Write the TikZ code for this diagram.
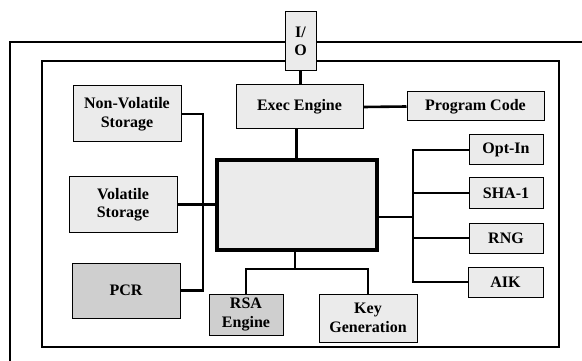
\documentclass[tikz,border=0pt]{standalone}
\usepackage{fontspec}
\setmainfont{Liberation Serif}
\begin{document}
\begin{tikzpicture}[x=1pt,y=-1pt,
  blk/.style={draw=black,line width=1pt,fill=gray!16,align=center,inner sep=0pt,
    font=\fontsize{16}{18.5}\selectfont\bfseries},
  dark/.style={fill=gray!38},
  wire/.style={line width=2.6pt},
  frame/.style={line width=1.3pt}]
\useasboundingbox (0,0) rectangle (582,361);
% frames
\draw[frame] (10,361) -- (10,42) -- (582,42);
\draw[frame] (42,61) rectangle (559,347);
% nodes
\node[blk,minimum width=31pt,minimum height=59pt] (io) at (300.5,41.5) {I/\\O};
\node[blk,minimum width=127pt,minimum height=44pt] (exec) at (299.5,107) {Exec Engine};
\node[blk,minimum width=137pt,minimum height=29pt] (prog) at (475.5,106.5) {Program Code};
\node[blk,minimum width=108pt,minimum height=56pt] (nv) at (127,114) {Non-Volatile\\Storage};
\node[blk,minimum width=108pt,minimum height=55pt] (vol) at (123,204.5) {Volatile\\Storage};
\node[blk,dark,minimum width=108pt,minimum height=55pt] (pcr) at (126,290.5) {PCR};
\node[blk,line width=4pt,minimum width=160pt,minimum height=90pt] (core) at (297,205) {};
\node[blk,dark,minimum width=74pt,minimum height=41pt] (rsa) at (246,314.5) {RSA\\Engine};
\node[blk,minimum width=98pt,minimum height=48pt] (key) at (368,318) {Key\\Generation};
\node[blk,minimum width=74pt,minimum height=30pt] (opt) at (506,150) {Opt-In};
\node[blk,minimum width=74pt,minimum height=30pt] (sha) at (506,193) {SHA-1};
\node[blk,minimum width=74pt,minimum height=30pt] (rng) at (506,238) {RNG};
\node[blk,minimum width=75pt,minimum height=30pt] (aik) at (505.5,282) {AIK};
% bus coordinates
\coordinate (lb) at (203,0);
\coordinate (rb) at (413,0);
\coordinate (bj) at (295,269);
\coordinate (cr) at (377,217);
% connectors
\draw[wire] (io.south) -- (exec.north -| io.south);
\draw[wire] ([xshift=-3pt]exec.south) -- ([xshift=-3pt]exec.south |- core.north);
\draw[wire] (exec.east) -- (prog.west);
\draw[wire] (nv.east) -| (lb |- pcr.east) -- (pcr.east);
\draw[wire] (vol.east) -- (vol.east -| core.west);
\draw[wire] (opt.west) -| (rb |- aik.west) -- (aik.west);
\draw[wire] (cr) -- (rb |- cr);
\draw[wire] (sha.west) -- (rb |- sha.west);
\draw[wire] (rng.west) -- (rb |- rng.west);
\draw[wire] (bj |- core.south) -- (bj);
\draw[wire] (rsa.north) |- (bj) -| (key.north);
\end{tikzpicture}
\end{document}
